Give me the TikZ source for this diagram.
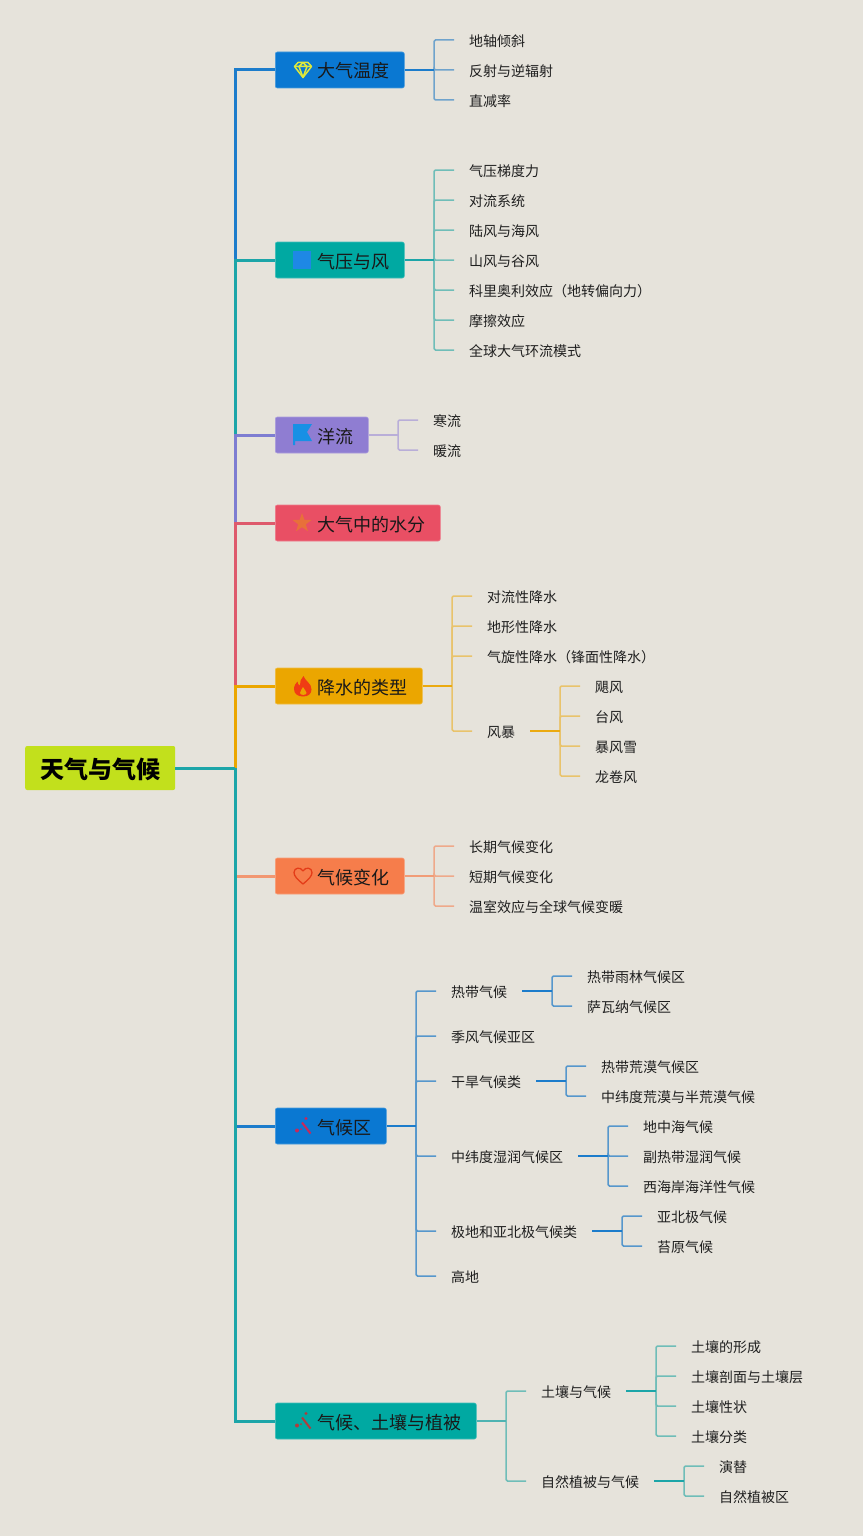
\documentclass[tikz,border=0pt]{standalone}
\usepackage{fontspec}
\setmainfont{Noto Sans CJK SC}
\definecolor{bgc}{HTML}{E6E3DB}
\definecolor{rootc}{HTML}{C2E01C}
\definecolor{cA}{HTML}{0A78D2}\definecolor{lA}{HTML}{6FA3CC}\definecolor{tA}{HTML}{1C7CCB}
\definecolor{cB}{HTML}{00A9A2}\definecolor{lB}{HTML}{6FBDB8}\definecolor{tB}{HTML}{1CA5A8}
\definecolor{cC}{HTML}{8F7DD2}\definecolor{lC}{HTML}{B9AED8}
\definecolor{cD}{HTML}{E94F64}\definecolor{tD}{HTML}{DE5A6C}
\definecolor{cE}{HTML}{EBA600}\definecolor{lE}{HTML}{E9C36B}
\definecolor{cF}{HTML}{F67D4B}\definecolor{lF}{HTML}{EFA98A}
\tikzset{
 x=1pt,y=-1pt,
 rootbox/.style={fill=rootc,rounded corners=2pt,minimum height=44pt,inner xsep=15pt,inner ysep=0pt,anchor=west,font=\fontsize{24}{24}\selectfont\bfseries,text height=24pt,text depth=4pt},
 mainbox/.style={fill=#1,draw=#1!75!white,line width=0.6pt,rounded corners=2pt,minimum height=36pt,inner xsep=15pt,inner ysep=0pt,anchor=west,font=\fontsize{18}{18}\selectfont,text height=19pt,text depth=3pt,text=black!90},
 leaf/.style={anchor=west,inner xsep=15pt,inner ysep=0pt,font=\fontsize{14}{14}\selectfont,text height=15.5pt,text depth=2.5pt,text=black!88},
 trunk/.style={draw=#1,line width=3pt},
 feed/.style={draw=#1,line width=2pt},
 stub/.style={draw=#1,line width=1.5pt,rounded corners=1.5pt},
}
\begin{document}
\begin{tikzpicture}
\useasboundingbox[fill=bgc] (0,0) rectangle (863,1536);
% root and main boxes
\node[rootbox] (root) at (25,768) {天气与气候};
\coordinate (tr) at (235,768);
\node[mainbox=cA] (a) at (275,70) {\hspace*{27pt}大气温度};
\node[mainbox=cB] (b) at (275,260) {\hspace*{27pt}气压与风};
\node[mainbox=cC] (c) at (275,435) {\hspace*{27pt}洋流};
\node[mainbox=cD] (d) at (275,523) {\hspace*{27pt}大气中的水分};
\node[mainbox=cE] (e) at (275,686) {\hspace*{27pt}降水的类型};
\node[mainbox=cF] (f) at (275,876) {\hspace*{27pt}气候变化};
\node[mainbox=cA] (g) at (275,1126) {\hspace*{27pt}气候区};
\node[mainbox=cB] (h) at (275,1421) {\hspace*{27pt}气候、土壤与植被};
% trunk
\draw[trunk=tA] (tr) |- (a.west);
\draw[trunk=tB] (tr) |- (b.west);
\draw[trunk=cC!85!tA] (tr) |- (c.west);
\draw[trunk=tD] (tr) |- (d.west);
\draw[trunk=cE] (tr) |- (e.west);
\draw[trunk=lF!60!cF] (tr) |- (f.west);
\draw[trunk=tA] (tr) |- (g.west);
\draw[trunk=tB] (tr) |- (h.west);
\draw[trunk=tB] (root.east) -- (tr);
% leaves
\node[leaf] (a1) at (454,40) {地轴倾斜};
\node[leaf] (a2) at (454,70) {反射与逆辐射};
\node[leaf] (a3) at (454,100) {直减率};
\node[leaf] (b1) at (454,170) {气压梯度力};
\node[leaf] (b2) at (454,200) {对流系统};
\node[leaf] (b3) at (454,230) {陆风与海风};
\node[leaf] (b4) at (454,260) {山风与谷风};
\node[leaf] (b5) at (454,290) {科里奥利效应（地转偏向力）};
\node[leaf] (b6) at (454,320) {摩擦效应};
\node[leaf] (b7) at (454,350) {全球大气环流模式};
\node[leaf] (c1) at (418,420) {寒流};
\node[leaf] (c2) at (418,450) {暖流};
\node[leaf] (e1) at (472,596) {对流性降水};
\node[leaf] (e2) at (472,626) {地形性降水};
\node[leaf] (e3) at (472,656) {气旋性降水（锋面性降水）};
\node[leaf] (e4) at (472,731) {风暴};
\node[leaf] (e41) at (580,686) {飓风};
\node[leaf] (e42) at (580,716) {台风};
\node[leaf] (e43) at (580,746) {暴风雪};
\node[leaf] (e44) at (580,776) {龙卷风};
\node[leaf] (f1) at (454,846) {长期气候变化};
\node[leaf] (f2) at (454,876) {短期气候变化};
\node[leaf] (f3) at (454,906) {温室效应与全球气候变暖};
\node[leaf] (g1) at (436,991) {热带气候};
\node[leaf] (g2) at (436,1036) {季风气候亚区};
\node[leaf] (g3) at (436,1081) {干旱气候类};
\node[leaf] (g4) at (436,1156) {中纬度湿润气候区};
\node[leaf] (g5) at (436,1231) {极地和亚北极气候类};
\node[leaf] (g6) at (436,1276) {高地};
\node[leaf] (g11) at (572,976) {热带雨林气候区};
\node[leaf] (g12) at (572,1006) {萨瓦纳气候区};
\node[leaf] (g31) at (586,1066) {热带荒漠气候区};
\node[leaf] (g32) at (586,1096) {中纬度荒漠与半荒漠气候};
\node[leaf] (g41) at (628,1126) {地中海气候};
\node[leaf] (g42) at (628,1156) {副热带湿润气候};
\node[leaf] (g43) at (628,1186) {西海岸海洋性气候};
\node[leaf] (g51) at (642,1216) {亚北极气候};
\node[leaf] (g52) at (642,1246) {苔原气候};
\node[leaf] (h1) at (526,1391) {土壤与气候};
\node[leaf] (h2) at (526,1481) {自然植被与气候};
\node[leaf] (h11) at (676,1346) {土壤的形成};
\node[leaf] (h12) at (676,1376) {土壤剖面与土壤层};
\node[leaf] (h13) at (676,1406) {土壤性状};
\node[leaf] (h14) at (676,1436) {土壤分类};
\node[leaf] (h21) at (704,1466) {演替};
\node[leaf] (h22) at (704,1496) {自然植被区};
% junctions
\coordinate (ja) at (434,70);\coordinate (jb) at (434,260);\coordinate (jc) at (398,435);
\coordinate (je) at (452,686);\coordinate (je4) at (560,731);\coordinate (jf) at (434,876);
\coordinate (jg) at (416,1126);\coordinate (jg1) at (552,991);\coordinate (jg3) at (566,1081);
\coordinate (jg4) at (608,1156);\coordinate (jg5) at (622,1231);\coordinate (jh) at (506,1421);
\coordinate (jh1) at (656,1391);\coordinate (jh2) at (684,1481);
% brackets
\foreach \n in {a1,a2,a3} \draw[stub=lA] (ja) |- (\n.west);
\draw[feed=tA] (a.east) -- (ja);
\foreach \n in {b1,b2,b3,b4,b5,b6,b7} \draw[stub=lB] (jb) |- (\n.west);
\draw[feed=tB] (b.east) -- (jb);
\foreach \n in {c1,c2} \draw[stub=lC] (jc) |- (\n.west);
\draw[feed=lC] (c.east) -- (jc);
\foreach \n in {e1,e2,e3,e4} \draw[stub=lE] (je) |- (\n.west);
\draw[feed=cE!85!lE] (e.east) -- (je);
\foreach \n in {e41,e42,e43,e44} \draw[stub=lE] (je4) |- (\n.west);
\draw[feed=cE!85!lE] (e4.east) -- (je4);
\foreach \n in {f1,f2,f3} \draw[stub=lF] (jf) |- (\n.west);
\draw[feed=lF!70!cF] (f.east) -- (jf);
\foreach \n in {g1,g2,g3,g4,g5,g6} \draw[stub=lA!70!tA] (jg) |- (\n.west);
\draw[feed=tA] (g.east) -- (jg);
\foreach \n in {g11,g12} \draw[stub=lA!70!tA] (jg1) |- (\n.west);
\draw[feed=tA] (g1.east) -- (jg1);
\foreach \n in {g31,g32} \draw[stub=lA!70!tA] (jg3) |- (\n.west);
\draw[feed=tA] (g3.east) -- (jg3);
\foreach \n in {g41,g42,g43} \draw[stub=lA!70!tA] (jg4) |- (\n.west);
\draw[feed=tA] (g4.east) -- (jg4);
\foreach \n in {g51,g52} \draw[stub=lA!70!tA] (jg5) |- (\n.west);
\draw[feed=tA] (g5.east) -- (jg5);
\foreach \n in {h1,h2} \draw[stub=lB] (jh) |- (\n.west);
\draw[feed=lB!60!tB] (h.east) -- (jh);
\foreach \n in {h11,h12,h13,h14} \draw[stub=lB] (jh1) |- (\n.west);
\draw[feed=tB] (h1.east) -- (jh1);
\foreach \n in {h21,h22} \draw[stub=lB] (jh2) |- (\n.west);
\draw[feed=tB] (h2.east) -- (jh2);
% icons
\begin{scope}[shift={(303,70)},draw={rgb,255:red,222;green,232;blue,60},line width=1.5pt,line join=round]
 \draw (-8.5,-3.5) -- (-5,-7.5) -- (5,-7.5) -- (8.5,-3.5) -- (0,7.5) -- cycle;
 \draw (-8.5,-3.5) -- (8.5,-3.5) (-4,-3.5) -- (0,7.5) -- (4,-3.5) (0,-7.5) -- (-4,-3.5) (0,-7.5) -- (4,-3.5);
\end{scope}
\fill[fill={rgb,255:red,30;green,136;blue,229}] (293,251) rectangle (311,269);
\fill[fill={rgb,255:red,24;green,144;blue,229}] (293,424) -- (312,424) -- (307,432) -- (312,441) -- (295,441) -- (295,445) -- (293,445) -- cycle;
\fill[fill={rgb,255:red,232;green,112;blue,58}] (302,513)
 -- (304.4,519.8) -- (311.5,520) -- (305.8,524.3) -- (307.9,531.2) -- (302,527.2) -- (296.1,531.2) -- (298.2,524.3) -- (292.5,520) -- (299.6,519.8) -- cycle;
\fill[fill={rgb,255:red,240;green,60;blue,20}] (303.5,676) .. controls (305,681) and (311.5,683) .. (311.5,689.5)
 .. controls (311.5,694) and (308,696.5) .. (303,696.5) .. controls (298,696.5) and (294,694) .. (294,689)
 .. controls (294,685.5) and (296,683) .. (297.5,681.5) .. controls (297.5,683.5) and (298.5,685) .. (300,685.5)
 .. controls (299.5,682) and (301,678.5) .. (303.5,676) -- cycle;
\fill[fill=cE] (303,687) .. controls (304,690) and (306.5,690.5) .. (306.5,693) .. controls (306.5,695.5) and (300,695.5) .. (300,693) .. controls (300,690.5) and (302,690) .. (303,687) -- cycle;
\draw[draw={rgb,255:red,228;green,60;blue,24},line width=1.3pt,line join=round] (303,884)
 .. controls (297,879) and (294,876) .. (294,872.5) .. controls (294,867.5) and (300.5,866.5) .. (303,871)
 .. controls (305.5,866.5) and (312,867.5) .. (312,872.5) .. controls (312,876) and (309,879) .. (303,884) -- cycle;
\begin{scope}[shift={(303,1126)},draw={rgb,255:red,200;green,40;blue,90},fill={rgb,255:red,200;green,40;blue,90}]
 \draw[line width=2pt] (-1,-3.5) -- (7.5,7.5);
 \fill (-6,4.5) circle (2pt) (3,-7.5) circle (1.6pt) (-2,3) circle (1pt);
\end{scope}
\begin{scope}[shift={(303,1421)},draw={rgb,255:red,176;green,60;blue,60},fill={rgb,255:red,176;green,60;blue,60}]
 \draw[line width=2pt] (-1,-3.5) -- (7.5,7.5);
 \fill (-6,4.5) circle (2pt) (3,-7.5) circle (1.6pt) (-2,3) circle (1pt);
\end{scope}
\end{tikzpicture}
\end{document}
